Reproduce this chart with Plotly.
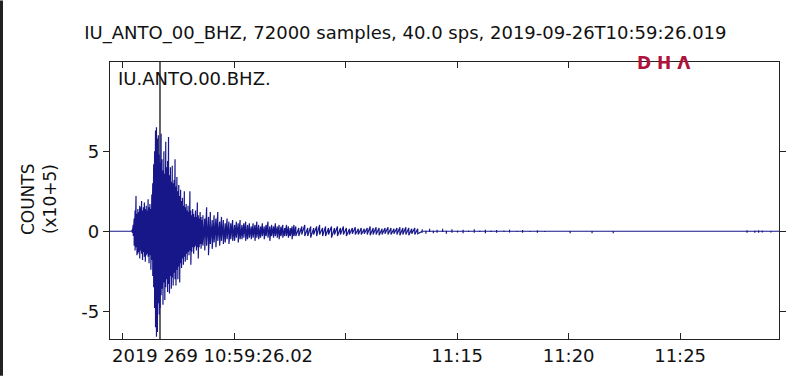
import plotly.graph_objects as go
from datetime import datetime, timedelta

# ---------------- data ----------------
start_time = datetime(2019, 9, 26, 10, 59, 26, 19000)
duration_s = 1800.0  # 72000 samples at 40 sps

# envelope of the trace: time offset (s), upper / lower amplitude (counts x1e5)
time_s = [
    0, 58,
    60, 62.5, 65, 67.5, 70, 72.5, 75, 77.5, 80, 82.5, 85, 87.5, 90, 92.5, 95, 97.5,
    100, 102.5, 105, 107.5, 110, 112.5, 115, 117.5, 120, 122.5, 125, 127.5, 130, 132.5,
    135, 137.5, 140, 142.5, 145, 147.5, 150, 152.5, 155, 157.5, 160, 162.5, 165, 167.5,
    170, 172.5, 175, 177.5, 180, 182.5, 185, 187.5, 190, 192.5, 195, 197.5, 200, 202.5,
    205, 207.5, 210, 212.5, 215, 217.5, 220, 222.5, 225, 227.5, 230, 232.5, 235, 237.5,
    240, 242.5, 245, 247.5, 250,
    255, 260, 265, 270, 275, 280, 285, 290, 295, 300, 305, 310, 315, 320, 325, 330, 335,
    340, 345, 350, 355, 360, 365, 370, 375, 380, 385, 390, 395, 400, 405, 410, 415, 420,
    425, 430, 435, 440, 445, 450, 455, 460, 465, 470, 475, 480, 485, 490, 495, 500,
    508, 516, 524, 532, 540, 548, 556, 564, 572, 580, 588, 596, 604, 612, 620, 628, 636,
    644, 652, 660, 668, 676, 684, 692, 700, 708, 716, 724, 732, 740, 748, 756, 764, 772,
    780, 788, 796, 804, 812, 820, 828,
    840, 850, 860, 870, 880, 895, 905, 920, 935, 950, 965, 980, 995, 1010, 1025, 1040,
    1060, 1075, 1095, 1110, 1130, 1150, 1170, 1190, 1238, 1260, 1297, 1320, 1354, 1380,
    1700, 1714, 1722, 1735, 1745, 1755, 1765, 1778, 1790, 1800,
]
upper = [
    0, 0,
    0.1, 0.4, 0.8, 1.3, 2.2, 1.1, 1.4, 1.2, 1.6, 1.5, 1.9, 1.3, 1.5, 1.8, 1.4, 1.6,
    1.3, 2.0, 1.5, 1.7, 1.4, 2.3, 3.0, 4.2, 5.0, 6.3, 6.5, 5.8, 6.0, 4.8,
    4.3, 6.1, 4.5, 3.8, 5.0, 3.6, 5.6, 4.0, 4.4, 5.9, 3.5, 4.0, 3.1, 4.1,
    3.0, 3.2, 4.5, 2.8, 3.4, 2.5, 2.9, 2.2, 2.6, 1.9, 2.1, 1.6, 2.5, 1.5,
    1.7, 1.3, 1.6, 1.2, 2.5, 1.3, 1.0, 1.4, 1.1, 0.9, 1.3, 0.9, 1.8, 1.0,
    0.8, 1.2, 0.9, 0.7, 1.0,
    0.8, 1.5, 0.9, 1.2, 0.7, 1.0, 0.8, 1.2, 0.6, 0.9, 0.7, 0.5, 0.8, 0.6, 0.5, 0.7, 0.4,
    0.6, 0.5, 0.7, 0.4, 0.5, 0.6, 0.4, 0.5, 0.3, 0.5, 0.4, 0.6, 0.4, 0.3, 0.5, 0.3, 0.4,
    0.6, 0.3, 0.4, 0.3, 0.5, 0.3, 0.4, 0.3, 0.4, 0.2, 0.4, 0.3, 0.2, 0.3, 0.4, 0.3,
    0.2, 0.3, 0.4, 0.2, 0.3, 0.2, 0.3, 0.4, 0.2, 0.3, 0.2, 0.3, 0.2, 0.3, 0.2, 0.3, 0.2,
    0.15, 0.2, 0.25, 0.15, 0.2, 0.15, 0.2, 0.3, 0.2, 0.25, 0.2, 0.15, 0.2, 0.25, 0.2, 0.15, 0.2,
    0.25, 0.2, 0.25, 0.2, 0.15, 0.2, 0.15,
    0.12, 0.05, 0.15, 0.05, 0.1, 0.15, 0.05, 0.12, 0.05, 0.1, 0.05, 0.12, 0.05, 0.1, 0.05, 0.08,
    0.05, 0.1, 0.04, 0.08, 0.04, 0.06, 0.04, 0.03, 0.03, 0.02, 0.03, 0.02, 0.03, 0.02,
    0.02, 0.06, 0.02, 0.05, 0.06, 0.05, 0.02, 0.04, 0.02, 0.0,
]
lower = [
    0, 0,
    -0.1, -0.3, -0.9, -1.2, -1.0, -1.5, -1.4, -1.3, -1.7, -1.2, -1.4, -1.8, -1.3, -1.6, -1.9, -1.5,
    -1.4, -1.6, -2.0, -1.5, -2.4, -1.8, -2.8, -3.5, -4.8, -6.0, -6.6, -6.3, -4.5, -5.2,
    -4.8, -4.0, -3.6, -4.6, -3.2, -4.3, -3.5, -3.0, -3.8, -3.3, -3.9, -2.8, -3.6, -2.9,
    -3.4, -2.6, -3.0, -3.4, -2.4, -3.0, -2.2, -3.2, -2.0, -2.3, -1.7, -2.1, -1.6, -1.9,
    -1.4, -1.8, -1.3, -1.5, -1.2, -2.1, -1.3, -1.0, -1.4, -1.0, -0.9, -1.2, -1.0, -1.7,
    -1.0, -0.8, -1.1, -0.8, -0.9,
    -1.2, -0.9, -1.5, -0.8, -1.1, -0.7, -1.0, -0.6, -0.9, -0.6, -0.8, -0.7, -0.5, -0.8, -0.5, -0.6, -0.6,
    -0.4, -0.7, -0.5, -0.5, -0.4, -0.6, -0.5, -0.4, -0.5, -0.4, -0.6, -0.4, -0.5, -0.4, -0.3, -0.5, -0.3,
    -0.4, -0.6, -0.3, -0.4, -0.3, -0.4, -0.5, -0.3, -0.4, -0.3, -0.3, -0.4, -0.3, -0.5, -0.3, -0.3,
    -0.3, -0.2, -0.3, -0.3, -0.4, -0.2, -0.3, -0.2, -0.3, -0.3, -0.2, -0.4, -0.2, -0.3, -0.2, -0.2, -0.3,
    -0.2, -0.15, -0.2, -0.2, -0.2, -0.15, -0.2, -0.25, -0.2, -0.2, -0.25, -0.2, -0.15, -0.2, -0.2, -0.15, -0.2,
    -0.25, -0.2, -0.2, -0.25, -0.15, -0.2, -0.15,
    -0.1, -0.15, -0.05, -0.12, -0.1, -0.05, -0.15, -0.1, -0.08, -0.12, -0.05, -0.1, -0.05, -0.12, -0.05, -0.1,
    -0.05, -0.08, -0.04, -0.1, -0.04, -0.1, -0.04, -0.03, -0.12, -0.02, -0.12, -0.02, -0.12, -0.02,
    -0.02, -0.1, -0.02, -0.1, -0.1, -0.08, -0.02, -0.08, -0.02, 0.0,
]

tick_times = ["2019-09-26 11:00:00", "2019-09-26 11:05:00", "2019-09-26 11:10:00",
              "2019-09-26 11:15:00", "2019-09-26 11:20:00", "2019-09-26 11:25:00"]
tick_labels = ["", "", "", "11:15", "11:20", "11:25"]
first_label = "2019 269 10:59:26.02"
y_ticks = [-5, 0, 5]
y_tick_labels = ["-5", "0", "5"]
y_range = [-6.74, 10.59]
marker_offset_s = 134.5
dense_until_s = 830  # beyond this the coda is drawn as isolated strokes

title_text = "IU_ANTO_00_BHZ, 72000 samples, 40.0 sps, 2019-09-26T10:59:26.019"
trace_id = "IU.ANTO.00.BHZ."

# ---------------- figure ----------------
x_pts, y_pts = [], []
for t, hi, lo in zip(time_s, upper, lower):
    ts = start_time + timedelta(seconds=t)
    if t <= dense_until_s:
        x_pts += [ts, ts]
        y_pts += [hi, lo]
    else:
        x_pts += [ts, ts, ts, ts]
        y_pts += [0, hi, lo, 0]

end_time = start_time + timedelta(seconds=duration_s)
marker_time = start_time + timedelta(seconds=marker_offset_s)

FONT = "DejaVu Sans"
AX = "#222222"
TXT = "#111111"
W, H = 806, 378
L, R, T, B = 110, 27, 62, 37
PW, PH = W - L - R, H - T - B

fig = go.Figure()
fig.add_trace(go.Scatter(x=x_pts, y=y_pts, mode="lines",
                         line=dict(color="#17178a", width=1.2),
                         hoverinfo="skip"))

fig.update_layout(
    width=W, height=H,
    margin=dict(l=L, r=R, t=T, b=B),
    paper_bgcolor="white", plot_bgcolor="white",
    showlegend=False,
    font=dict(family=FONT, size=18, color=TXT),
    title=dict(text=title_text, x=0.503, xref="container", xanchor="center",
               y=1 - 33 / H, yref="container", yanchor="middle",
               font=dict(family=FONT, size=18, color=TXT)),
    xaxis=dict(type="date",
               range=[start_time.strftime("%Y-%m-%d %H:%M:%S.%f")[:-3],
                      end_time.strftime("%Y-%m-%d %H:%M:%S.%f")[:-3]],
               tickmode="array", tickvals=tick_times, ticktext=tick_labels,
               ticks="inside", ticklen=6, tickwidth=1.2, tickcolor=AX,
               showline=True, linecolor=AX, linewidth=1.3, mirror="allticks",
               showgrid=False, zeroline=False,
               tickfont=dict(family=FONT, size=18, color=TXT)),
    yaxis=dict(range=y_range, tickmode="array", tickvals=y_ticks, ticktext=y_tick_labels,
               ticks="outside", ticklen=6, tickwidth=1.2, tickcolor=AX,
               showline=True, linecolor=AX, linewidth=1.3, mirror="allticks",
               showgrid=False, zeroline=False,
               tickfont=dict(family=FONT, size=18, color=TXT)),
)

# vertical marker line
fig.add_shape(type="line", xref="x", yref="paper", x0=marker_time, x1=marker_time,
              y0=0, y1=1, line=dict(color=TXT, width=1.3), layer="below")

# dark left edge of the picture
fig.add_shape(type="rect", xref="paper", yref="paper",
              x0=-L / PW, x1=(3 - L) / PW, y0=-B / PH, y1=(H - B) / PH,
              fillcolor="#222222", line=dict(width=0))

annos = [
    dict(text=first_label, xref="paper", yref="paper", x=0, y=0, xanchor="left",
         yanchor="top", xshift=0, yshift=-4, showarrow=False,
         font=dict(family=FONT, size=18, color=TXT)),
    dict(text=trace_id, xref="paper", yref="paper", x=0, y=1, xanchor="left",
         yanchor="top", xshift=6, yshift=-4, showarrow=False,
         font=dict(family=FONT, size=18, color=TXT)),
    dict(text="COUNTS", xref="paper", yref="paper", x=(28 - L) / PW, y=0.505,
         xanchor="center", yanchor="middle", textangle=-90, showarrow=False,
         font=dict(family=FONT, size=17, color=TXT)),
    dict(text="(x10+5)", xref="paper", yref="paper", x=(50 - L) / PW, y=0.505,
         xanchor="center", yanchor="middle", textangle=-90, showarrow=False,
         font=dict(family=FONT, size=17, color=TXT)),
    dict(text="<b>D H \u039b</b>", xref="paper", yref="paper",
         x=(664 - L) / PW, y=1 - 1 / PH, xanchor="center", yanchor="middle",
         showarrow=False, font=dict(family=FONT, size=17, color="#b0123e")),
]
for a in annos:
    fig.add_annotation(**a)

fig.write_html("out.html", config={"displayModeBar": False},
               post_script="document.body.style.margin='0';")
